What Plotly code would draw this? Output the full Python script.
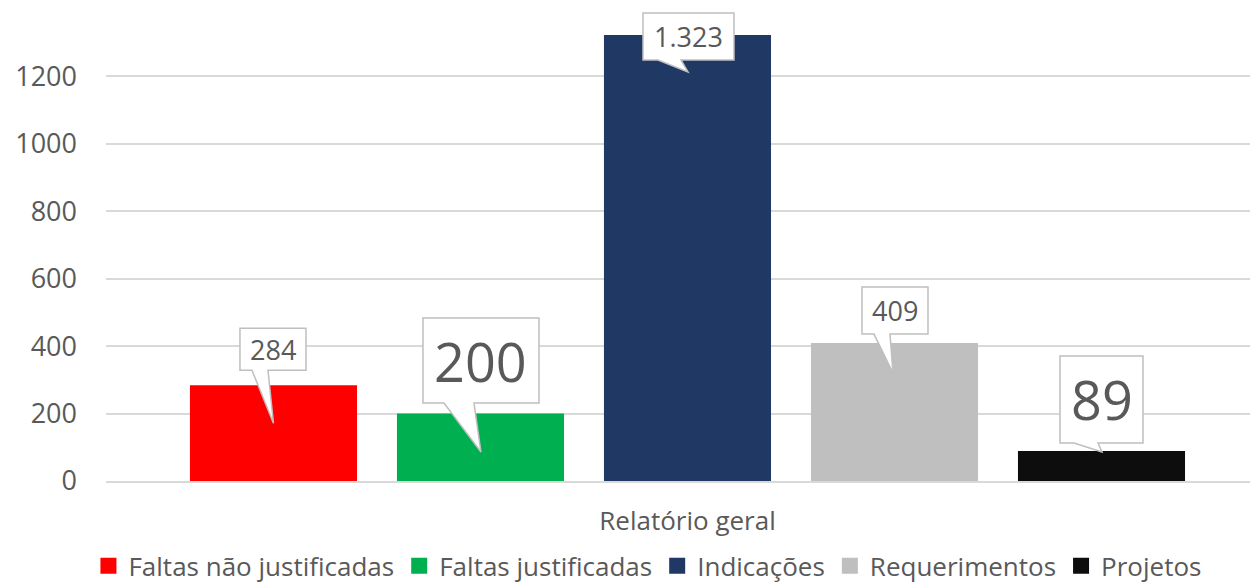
import plotly.graph_objects as go

# ---- data ----
category = "Relatório geral"
series_names = ["Faltas não justificadas", "Faltas justificadas", "Indicações", "Requerimentos", "Projetos"]
series_values = [284, 200, 1323, 409, 89]
value_labels = ["284", "200", "1.323", "409", "89"]
y_tick_values = [0, 200, 400, 600, 800, 1000, 1200]
y_tick_labels = ["0", "200", "400", "600", "800", "1000", "1200"]

# ---- style ----
colors = ["#FF0000", "#00B050", "#203864", "#BFBFBF", "#0D0D0D"]
FONT = "Open Sans"
TXT = "#595959"
GRID = "#D9D9D9"
# callout geometry in pixels relative to (bar center, bar top); y positive = up
# (left, right, top, bottom, wedge_a, wedge_b, tip_x, tip_y, font_size)
callouts = [
    (-33.5, 32.5, 57, 15, -21.5, -5.5, 0, -38, 27),
    (-57.5, 58.5, 95.5, 10.5, -36.5, -6.5, 0.5, -38.5, 54),
    (-44.5, 46.5, 22, -25, -29.5, -6.5, 0.5, -37, 27),
    (-32.5, 33.5, 56, 9, -20.5, -4.5, -1.5, -30, 27),
    (-41.5, 41.5, 95, 8, -27.5, -3.5, 0.5, -1, 54),
]
bar_width = 0.807

fig = go.Figure()
positions = list(range(len(series_names)))
for i, (name, val, col) in enumerate(zip(series_names, series_values, colors)):
    fig.add_trace(go.Bar(
        x=[positions[i]], y=[val], name=name, width=bar_width,
        marker=dict(color=col, line=dict(width=0)),
        hoverinfo="skip", showlegend=False, legendgroup=name,
    ))
    # legend entry with a larger square swatch
    fig.add_trace(go.Scatter(
        x=[None], y=[None], mode="markers", name=name, legendgroup=name,
        marker=dict(symbol="square", size=16, color=col, line=dict(width=0)),
        hoverinfo="skip", showlegend=True,
    ))

shapes = []
annotations = []
for i, (val, lab, c) in enumerate(zip(series_values, value_labels, callouts)):
    l, r, t, b, wa, wb, tx, ty, fs = c
    path = (f"M{l},{b} L{wa},{b} L{tx},{ty} L{wb},{b} L{r},{b} "
            f"L{r},{t} L{l},{t} Z")
    shapes.append(dict(
        type="path", xref="x", yref="y", xsizemode="pixel", ysizemode="pixel",
        xanchor=positions[i], yanchor=val, path=path,
        fillcolor="white", line=dict(color="#BFBFBF", width=1.5), layer="above",
    ))
    annotations.append(dict(
        x=positions[i], y=val, xref="x", yref="y", text=lab, showarrow=False,
        xshift=(l + r) / 2, yshift=(t + b) / 2, xanchor="center", yanchor="middle",
        font=dict(family=FONT, size=fs, color=TXT),
    ))

fig.update_layout(
    width=1250, height=577,
    margin=dict(l=98, r=0, t=1, b=104, autoexpand=False),
    paper_bgcolor="white", plot_bgcolor="white",
    font=dict(family=FONT, color=TXT),
    barmode="overlay",
    shapes=shapes,
    annotations=annotations,
    showlegend=True,
    legend=dict(
        orientation="h", x=0.47, xanchor="center", y=-0.13, yanchor="top",
        font=dict(family=FONT, size=26, color=TXT),
        itemwidth=30, tracegroupgap=0, itemsizing="trace",
    ),
    xaxis=dict(
        range=[-0.809, 4.756], tickvals=[2], ticktext=[category],
        showgrid=False, zeroline=False, showline=True, linecolor=GRID, linewidth=1.5,
        ticks="", tickfont=dict(family=FONT, size=26, color=TXT),
        ticklabelstandoff=16, fixedrange=True, automargin=False,
    ),
    yaxis=dict(
        range=[0, 1400], tickvals=y_tick_values, ticktext=y_tick_labels,
        showgrid=True, gridcolor=GRID, gridwidth=1.5, zeroline=False, showline=False,
        ticks="", tickfont=dict(family=FONT, size=27, color=TXT),
        ticklabelstandoff=28, fixedrange=True, automargin=False,
    ),
)

fig.write_html("out.html")
